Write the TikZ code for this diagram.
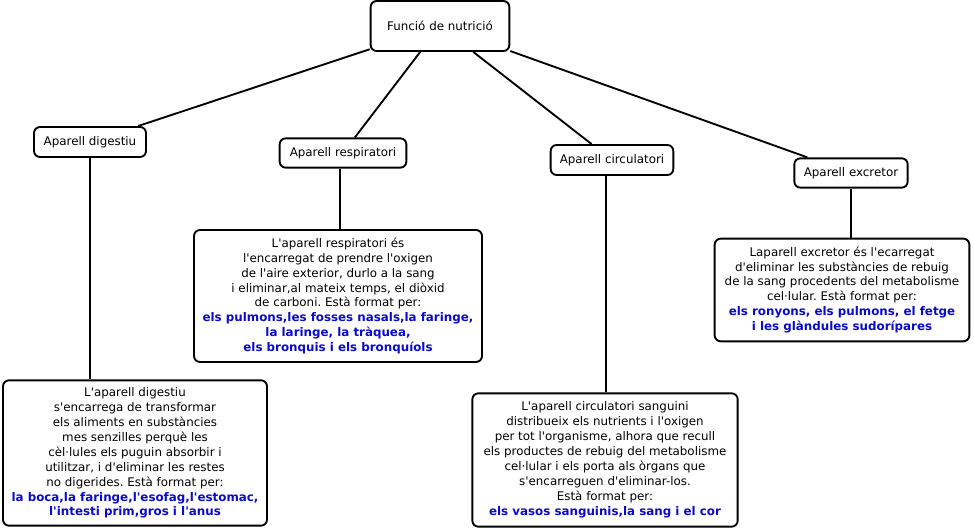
\documentclass[tikz,border=0pt]{standalone}
\usepackage{fontspec}
\setmainfont{DejaVu Sans}[Ligatures=TeXOff]
\frenchspacing
\definecolor{blaufort}{RGB}{10,10,204}
\tikzset{caixa/.style = {draw, rounded corners=4.5pt, line width=1.4pt, fill=white,
                         align=center, font=\fontsize{8.9}{11.2}\selectfont,
                         inner sep=0pt, minimum width=#1},
         caixa/.default=0pt,
         enllac/.style = {line width=1.4pt}
        }
\newcommand{\blau}[1]{{\color{blaufort}\bfseries #1}}

\begin{document}
\begin{tikzpicture}[x=0.75pt,y=-0.75pt]
\useasboundingbox (0,0) rectangle (974,530);
\tikzstyle{every node}=[caixa]
\node[minimum width=104pt, minimum height=37.5pt] at (440,26) (nutr) {Funció de nutrició};
\node[minimum width=84pt, minimum height=22.5pt] at (90,142) (dig) {Aparell digestiu};
\node[minimum width=95pt, minimum height=22pt] at (343,153) (resp) {Aparell respiratori};
\node[minimum width=92pt, minimum height=22.5pt] at (612,160) (circ) {Aparell circulatori};
\node[minimum width=85pt, minimum height=22pt] at (851,173) (excr) {Aparell excretor};
\node[minimum width=216pt, minimum height=99pt] at (338,296) (dresp)
  {L'aparell respiratori és\\ l'encarregat de prendre l'oxigen\\ de l'aire exterior, durlo a la sang\\
   i eliminar,al mateix temps, el diòxid\\ de carboni. Està format per:\\
   \blau{els pulmons,les fosses nasals,la faringe,}\\ \blau{la laringe, la tràquea,}\\
   \blau{els bronquis i els bronquíols}};
\node[minimum width=198pt, minimum height=109pt] at (135,453) (ddig)
  {L'aparell digestiu\\ s'encarrega de transformar\\ els aliments en substàncies\\
   mes senzilles perquè les\\ cèl·lules els puguin absorbir i\\ utilitzar, i d'eliminar les restes\\
   no digerides. Està format per:\\ \blau{la boca,la faringe,l'esofag,l'estomac,}\\
   \blau{l'intesti prim,gros i l'anus}};
\node[minimum width=199pt, minimum height=100pt] at (605,460) (dcirc)
  {L'aparell circulatori sanguini\\ distribueix els nutrients i l'oxigen\\
   per tot l'organisme, alhora que recull\\ els productes de rebuig del metabolisme\\
   cel·lular i els porta als òrgans que\\ s'encarreguen d'eliminar-los.\\ Està format per:\\
   \blau{els vasos sanguinis,la sang i el cor}};
\node[minimum width=191pt, minimum height=77pt] at (842,290) (dexcr)
  {Laparell excretor és l'ecarregat\\ d'eliminar les substàncies de rebuig\\
   de la sang procedents del metabolisme\\ cel·lular. Està format per:\\
   \blau{els ronyons, els pulmons, el fetge}\\ \blau{i les glàndules sudorípares}};
\draw[enllac] (nutr) -- (dig);
\draw[enllac] (nutr) -- (resp);
\draw[enllac] (nutr) -- (circ);
\draw[enllac] (nutr) -- (excr);
\draw[enllac] (dig.south) -- (dig.south |- ddig.north);
\draw[enllac] ([xshift=-2pt]resp.south) -- ([xshift=-2pt]resp.south |- dresp.north);
\draw[enllac] ([xshift=-4.5pt]circ.south) -- ([xshift=-4.5pt]circ.south |- dcirc.north);
\draw[enllac] (excr.south) -- (excr.south |- dexcr.north);
\end{tikzpicture}
\end{document}
